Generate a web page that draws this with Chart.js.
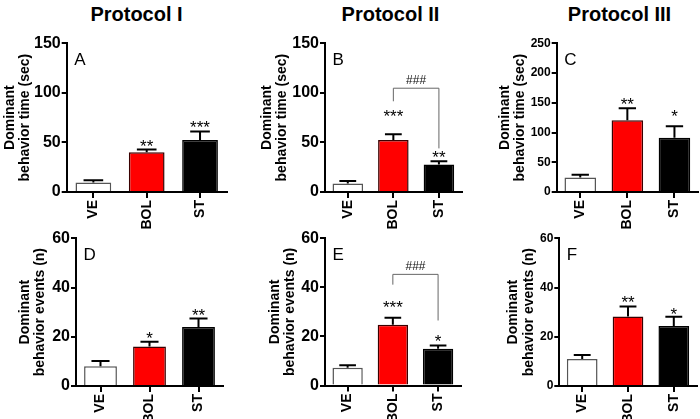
<!DOCTYPE html>
<html><head><meta charset="utf-8">
<script src="https://cdn.jsdelivr.net/npm/chart.js@4.4.1/dist/chart.umd.min.js"></script>
<style>
html,body{margin:0;padding:0;background:#fff;width:700px;height:419px;overflow:hidden;}
#wrap{position:relative;width:700px;height:419px;background:#fff;}
canvas{position:absolute;}
.pt{position:absolute;top:4px;width:200px;text-align:center;font:bold 20px 'Liberation Sans',Arial,sans-serif;line-height:20px;color:#000;white-space:nowrap;}
</style></head><body>
<div id="wrap"></div>
<script>
// ---------- data ----------
const categories = ['VE', 'BOL', 'ST'];
const protocolTitles = ['Protocol I', 'Protocol II', 'Protocol III'];
const timeTitle = ['Dominant', 'behavior time (sec)'];
const eventsTitle = ['Dominant', 'behavior events (n)'];

const timeP1 = [9.5, 40, 52.5];
const timeP1Err = [2.3, 2.8, 8.5];
const timeP2 = [8.5, 52.5, 27.8];
const timeP2Err = [2.7, 5.8, 3.1];
const timeP3 = [24.5, 120.6, 91];
const timeP3Err = [4.5, 20.4, 19.4];

const eventsP1 = [8, 16, 24];
const eventsP1Err = [2.2, 2.0, 3.4];
const eventsP2 = [7.2, 24.8, 15];
const eventsP2Err = [1.1, 2.8, 1.3];
const eventsP3 = [11, 28.2, 24.4];
const eventsP3Err = [1.6, 4.1, 3.7];

const starsA = ['', '**', '***'];
const starsB = ['', '***', '**'];
const starsC = ['', '**', '*'];
const starsD = ['', '*', '**'];
const starsE = ['', '***', '*'];
const starsF = ['', '**', '*'];

// bracket: [top, left leg end, right leg end] in axis units
const bracketB = [104.7, 91.5, 44];
const bracketE = [45.3, 41.1, 26.5];
const bracketLabel = '###';

const timeTicks = {max: 150, step: 50};
const timeTicksC = {max: 250, step: 50};
const eventTicks = {max: 60, step: 20};

// ---------- layout ----------
const FONT = "'Liberation Sans', Arial, sans-serif";
Chart.defaults.font.family = FONT;
Chart.defaults.color = '#000';

const panels = [
  {letter:'A', values:timeP1, errors:timeP1Err, stars:starsA, scale:timeTicks, yTitle:timeTitle, bracket:null,
   box:{x:0,y:0,w:232,h:232}, area:{l:66.7,t:43.3,r:226.7,b:192}, titleX:10, tickFont:16, starGap:[0,7.6,8.3]},
  {letter:'B', values:timeP2, errors:timeP2Err, stars:starsB, scale:timeTicks, yTitle:timeTitle, bracket:bracketB,
   box:{x:240,y:0,w:225,h:232}, area:{l:325,t:43.3,r:461.7,b:192}, titleX:266.7, tickFont:16, starGap:[0,22,8]},
  {letter:'C', values:timeP3, errors:timeP3Err, stars:starsC, scale:timeTicksC, yTitle:timeTitle, bracket:null,
   box:{x:470,y:0,w:230,h:232}, area:{l:556.7,t:43.3,r:698,b:192}, titleX:505, tickFont:12, starGap:[0,7.3,13.5]},
  {letter:'D', values:eventsP1, errors:eventsP1Err, stars:starsD, scale:eventTicks, yTitle:eventsTitle, bracket:null,
   box:{x:0,y:210,w:232,h:209}, area:{l:76,t:238.3,r:223,b:386}, titleX:25, tickFont:16, starGap:[0,7,7.3]},
  {letter:'E', values:eventsP2, errors:eventsP2Err, stars:starsE, scale:eventTicks, yTitle:eventsTitle, bracket:bracketE,
   box:{x:240,y:210,w:225,h:209}, area:{l:325,t:238.3,r:460.7,b:385.5}, titleX:274.7, tickFont:16, starGap:[0,14.6,7.7]},
  {letter:'F', values:eventsP3, errors:eventsP3Err, stars:starsF, scale:eventTicks, yTitle:eventsTitle, bracket:null,
   box:{x:470,y:210,w:230,h:209}, area:{l:559.3,t:238.3,r:696.7,b:386}, titleX:513.3, tickFont:12, starGap:[0,7.7,6.3]}
];
const titleCenters = [136.5, 390.5, 619.5];

const wrap = document.getElementById('wrap');
protocolTitles.forEach((t, i) => {
  const d = document.createElement('div');
  d.className = 'pt';
  d.style.left = (titleCenters[i] - 100) + 'px';
  d.textContent = t;
  wrap.appendChild(d);
});

const TITLE_LH = 1.1, TITLE_SIZE = 14;
const titleOffset = TITLE_SIZE * TITLE_LH / 2;

function makePlugin(p) {
  return {
    id: 'annot' + p.letter,
    afterDatasetsDraw(chart) {
      const ctx = chart.ctx, ys = chart.scales.y, meta = chart.getDatasetMeta(0), ca = chart.chartArea;
      ctx.save();
      meta.data.forEach((bar, i) => {
        const top = ys.getPixelForValue(p.values[i]);
        const et = ys.getPixelForValue(p.values[i] + p.errors[i]);
        const cw = bar.width * 0.55;
        ctx.strokeStyle = '#000'; ctx.lineWidth = 2; ctx.lineCap = 'butt';
        ctx.beginPath();
        ctx.moveTo(bar.x, top); ctx.lineTo(bar.x, et);
        ctx.moveTo(bar.x - cw / 2, et); ctx.lineTo(bar.x + cw / 2, et);
        ctx.stroke();
        if (p.stars[i]) {
          ctx.fillStyle = '#000';
          ctx.font = '17px ' + FONT;
          ctx.textAlign = 'center'; ctx.textBaseline = 'alphabetic';
          ctx.fillText(p.stars[i], bar.x, et - p.starGap[i] + 9.6);
        }
      });
      if (p.bracket) {
        const x1 = meta.data[1].x, x2 = meta.data[2].x;
        const yt = ys.getPixelForValue(p.bracket[0]);
        const y1 = ys.getPixelForValue(p.bracket[1]);
        const y2 = ys.getPixelForValue(p.bracket[2]);
        ctx.strokeStyle = '#666'; ctx.lineWidth = 1;
        ctx.beginPath();
        ctx.moveTo(x1, y1); ctx.lineTo(x1, yt); ctx.lineTo(x2, yt); ctx.lineTo(x2, y2);
        ctx.stroke();
        ctx.fillStyle = '#111';
        ctx.font = '12px ' + FONT;
        ctx.textAlign = 'center'; ctx.textBaseline = 'alphabetic';
        ctx.fillText(bracketLabel, (x1 + x2) / 2, yt - 4.5);
      }
      ctx.fillStyle = '#000';
      ctx.font = '17px ' + FONT;
      ctx.textAlign = 'left'; ctx.textBaseline = 'alphabetic';
      ctx.fillText(p.letter, ca.left + 7.5, ca.top + 22);
      ctx.restore();
    }
  };
}

panels.forEach(p => {
  const cv = document.createElement('canvas');
  cv.width = p.box.w; cv.height = p.box.h;
  cv.style.left = p.box.x + 'px'; cv.style.top = p.box.y + 'px';
  cv.style.width = p.box.w + 'px'; cv.style.height = p.box.h + 'px';
  wrap.appendChild(cv);

  const pl = p.titleX - titleOffset - p.box.x;
  const yW = p.area.l - p.box.x - pl;
  const pr = p.box.x + p.box.w - p.area.r;
  const pt = p.area.t - p.box.y;
  const xH = p.box.y + p.box.h - p.area.b;

  new Chart(cv, {
    type: 'bar',
    data: {
      labels: categories,
      datasets: [{
        data: p.values,
        backgroundColor: ['#ffffff', '#ff0000', '#000000'],
        borderColor: ['#555555', '#3a0000', '#000000'],
        borderWidth: 1.5,
        barPercentage: 0.67,
        categoryPercentage: 1
      }]
    },
    options: {
      responsive: false,
      animation: false,
      devicePixelRatio: 1,
      layout: {padding: {left: pl, right: pr, top: pt, bottom: 0}},
      plugins: {legend: {display: false}, tooltip: {enabled: false}},
      scales: {
        x: {
          offset: true,
          grid: {display: true, drawOnChartArea: false, drawTicks: true, tickLength: 6, offset: false, color: '#000', lineWidth: 2},
          border: {display: true, color: '#000', width: 2},
          ticks: {minRotation: 90, maxRotation: 90, autoSkip: false, padding: 2, color: '#000', font: {size: 14, weight: 'bold'}},
          afterFit: s => { s.height = xH; }
        },
        y: {
          min: 0, max: p.scale.max,
          ticks: {stepSize: p.scale.step, padding: 1, color: '#000', font: {size: p.tickFont, weight: 'bold'}},
          grid: {display: true, drawOnChartArea: false, drawTicks: true, tickLength: 5, color: '#000', lineWidth: 2},
          border: {display: true, color: '#000', width: 2},
          title: {display: true, text: p.yTitle, color: '#000', padding: 0, font: {size: TITLE_SIZE, weight: 'bold', lineHeight: TITLE_LH}},
          afterFit: s => { s.width = yW; }
        }
      }
    },
    plugins: [makePlugin(p)]
  });
});
</script>
</body></html>
